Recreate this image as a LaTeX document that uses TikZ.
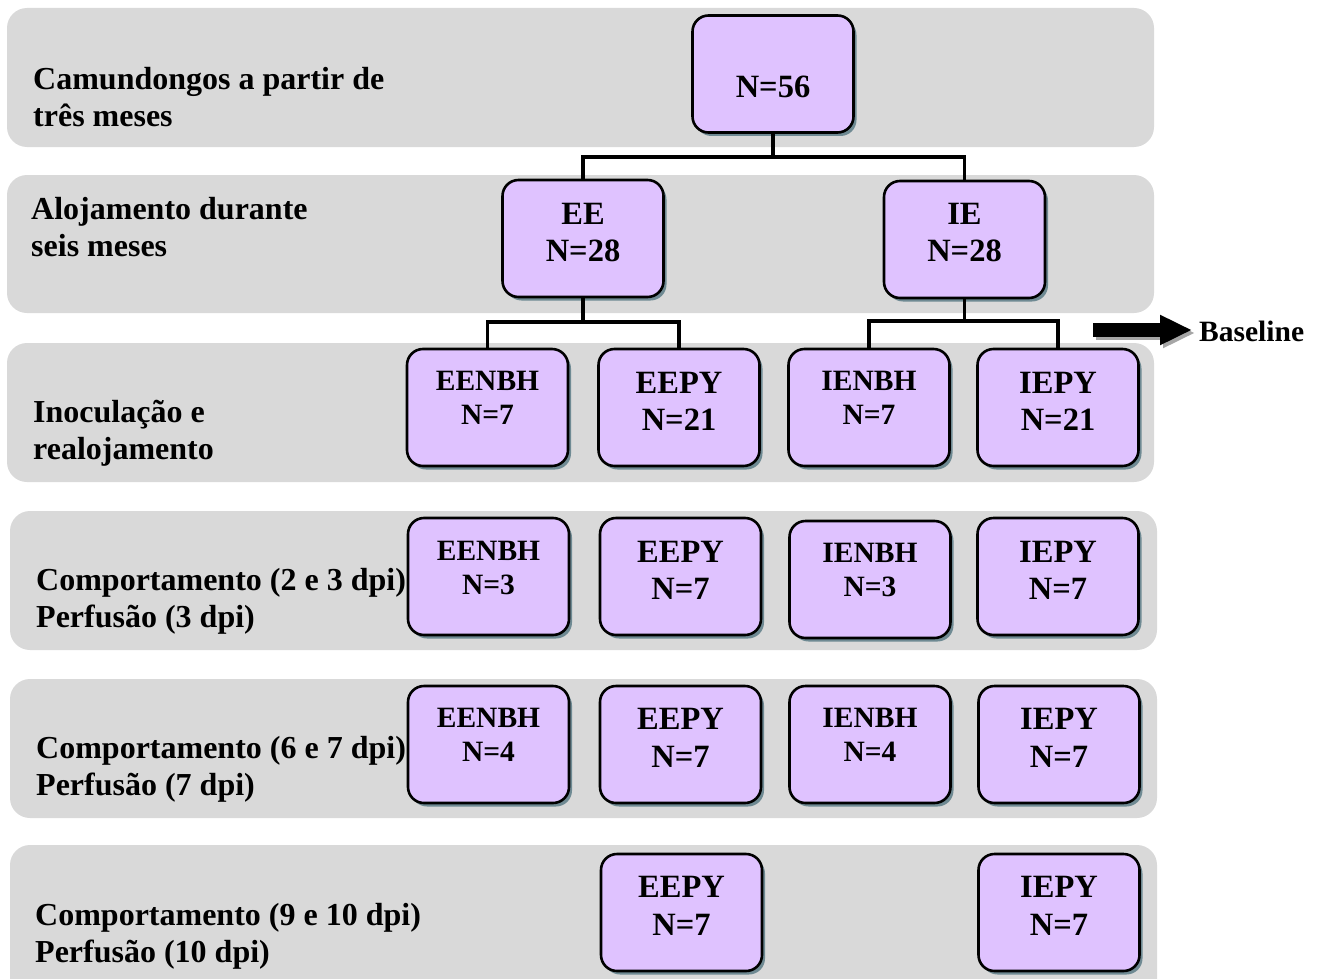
\documentclass[tikz,border=0pt]{standalone}
\usepackage{fontspec}
\setmainfont{Liberation Serif}
\usetikzlibrary{shadows,calc,arrows.meta}
\definecolor{bandc}{HTML}{D9D9D9}
\definecolor{lav}{HTML}{DFC2FF}
\definecolor{shad}{HTML}{6F8A93}
\tikzset{
 bandbox/.style={fill=bandc, rounded corners=20pt, draw=none},
 pbox/.style={draw, line width=2.6pt, fill=lav, rounded corners=16pt, minimum width=161pt, minimum height=117pt, inner sep=0pt,
   drop shadow={shadow xshift=3pt, shadow yshift=-3.5pt, fill=shad, opacity=1}},
 btxt/.style={font=\fontsize{32.5}{37.5}\selectfont\bfseries, align=center, inner sep=0pt},
 stxt/.style={font=\fontsize{29.5}{34}\selectfont\bfseries, align=center, inner sep=0pt},
 ltxt/.style={font=\fontsize{32}{37}\selectfont\bfseries, align=left, anchor=west, inner sep=0pt},
 conn/.style={line width=3.5pt},
}
\begin{document}
\begin{tikzpicture}[x=1pt,y=-1pt]
\useasboundingbox (0,0) rectangle (1319,979);
% bands
\path[bandbox] (7,8) rectangle (1154,147);
\path[bandbox] (7,175) rectangle (1154,313);
\path[bandbox] (7,343) rectangle (1154,482);
\path[bandbox] (10,511) rectangle (1157,650);
\path[bandbox] (10,679) rectangle (1157,818);
\path[bandbox] (10,845) rectangle (1157,1000);
% left labels
\node[ltxt] (l1) at (33,97.5) {Camundongos a partir de\\três meses};
\node[ltxt] (l2) at (31,227.5) {Alojamento durante\\seis meses};
\node[ltxt] (l3) at (33,433) {Inoculação e\\realojamento};
\node[ltxt] (l4) at (36,601) {Comportamento (2 e 3 dpi)\\Perfusão (3 dpi)};
\node[ltxt] (l5) at (36,769) {Comportamento (6 e 7 dpi)\\Perfusão (7 dpi)};
\node[ltxt] (l6) at (35,936) {Comportamento (9 e 10 dpi)\\Perfusão (10 dpi)};
% boxes
\node[pbox] (n56) at (773,74) {};
\node[btxt] (tn56) at (773,87) {N=56};
\node[pbox] (ee) at (583,238.5) {};
\node[btxt] (tee) at (583,232.5) {EE\\N=28};
\node[pbox] (ie) at (964.5,239.5) {};
\node[btxt] (tie) at (964.5,232.5) {IE\\N=28};
% row 3
\node[pbox] (r3a) at (487.5,407.5) {};
\node[stxt] (t3a) at (487.5,397.5) {EENBH\\N=7};
\node[pbox] (r3b) at (679,407.5) {};
\node[btxt] (t3b) at (679,401.5) {EEPY\\N=21};
\node[pbox] (r3c) at (869,407.5) {};
\node[stxt] (t3c) at (869,397.5) {IENBH\\N=7};
\node[pbox] (r3d) at (1058,407.5) {};
\node[btxt] (t3d) at (1058,401.5) {IEPY\\N=21};
% row 4
\node[pbox] (r4a) at (488.5,576.5) {};
\node[stxt] (t4a) at (488.5,567.5) {EENBH\\N=3};
\node[pbox] (r4b) at (680.5,576.5) {};
\node[btxt] (t4b) at (680.5,570.5) {EEPY\\N=7};
\node[pbox] (r4c) at (870,579.5) {};
\node[stxt] (t4c) at (870,570) {IENBH\\N=3};
\node[pbox] (r4d) at (1058,576.5) {};
\node[btxt] (t4d) at (1058,570.5) {IEPY\\N=7};
% row 5
\node[pbox] (r5a) at (488.5,744.5) {};
\node[stxt] (t5a) at (488.5,735) {EENBH\\N=4};
\node[pbox] (r5b) at (680.5,744.5) {};
\node[btxt] (t5b) at (680.5,738) {EEPY\\N=7};
\node[pbox] (r5c) at (870,744.5) {};
\node[stxt] (t5c) at (870,735) {IENBH\\N=4};
\node[pbox] (r5d) at (1059,744.5) {};
\node[btxt] (t5d) at (1059,738) {IEPY\\N=7};
% row 6
\node[pbox] (r6a) at (681.5,912.5) {};
\node[btxt] (t6a) at (681.5,906) {EEPY\\N=7};
\node[pbox] (r6b) at (1059,912.5) {};
\node[btxt] (t6b) at (1059,906) {IEPY\\N=7};
% connectors
\coordinate (j1) at (773,157);
\coordinate (j2) at (582,322);
\coordinate (j3) at (963,321);
\draw[conn] (n56.south) -- (n56.south |- j1) -| (ee.north);
\draw[conn] (n56.south |- j1) -| (ie.north);
\draw[conn] (ee.south) -- (ee.south |- j2) -| (r3a.north);
\draw[conn] (ee.south |- j2) -| (r3b.north);
\draw[conn] (ie.south) -- (ie.south |- j3) -| (r3c.north);
\draw[conn] (ie.south |- j3) -| (r3d.north);
% baseline arrow
\node[font=\fontsize{29.5}{34}\selectfont\bfseries, anchor=west, inner sep=0pt] (bl) at (1199,331) {Baseline};
\coordinate (bs) at (1093,330);
\coordinate (be) at (1192,330);
\draw[line width=14pt, draw=gray!70, -{Triangle[length=32pt,width=28pt]}] ($(bs)+(3,3)$) -- ($(be)+(3,3)$);
\draw[line width=14pt, -{Triangle[length=32pt,width=28pt]}] (bs) -- (be);
\end{tikzpicture}
\end{document}
